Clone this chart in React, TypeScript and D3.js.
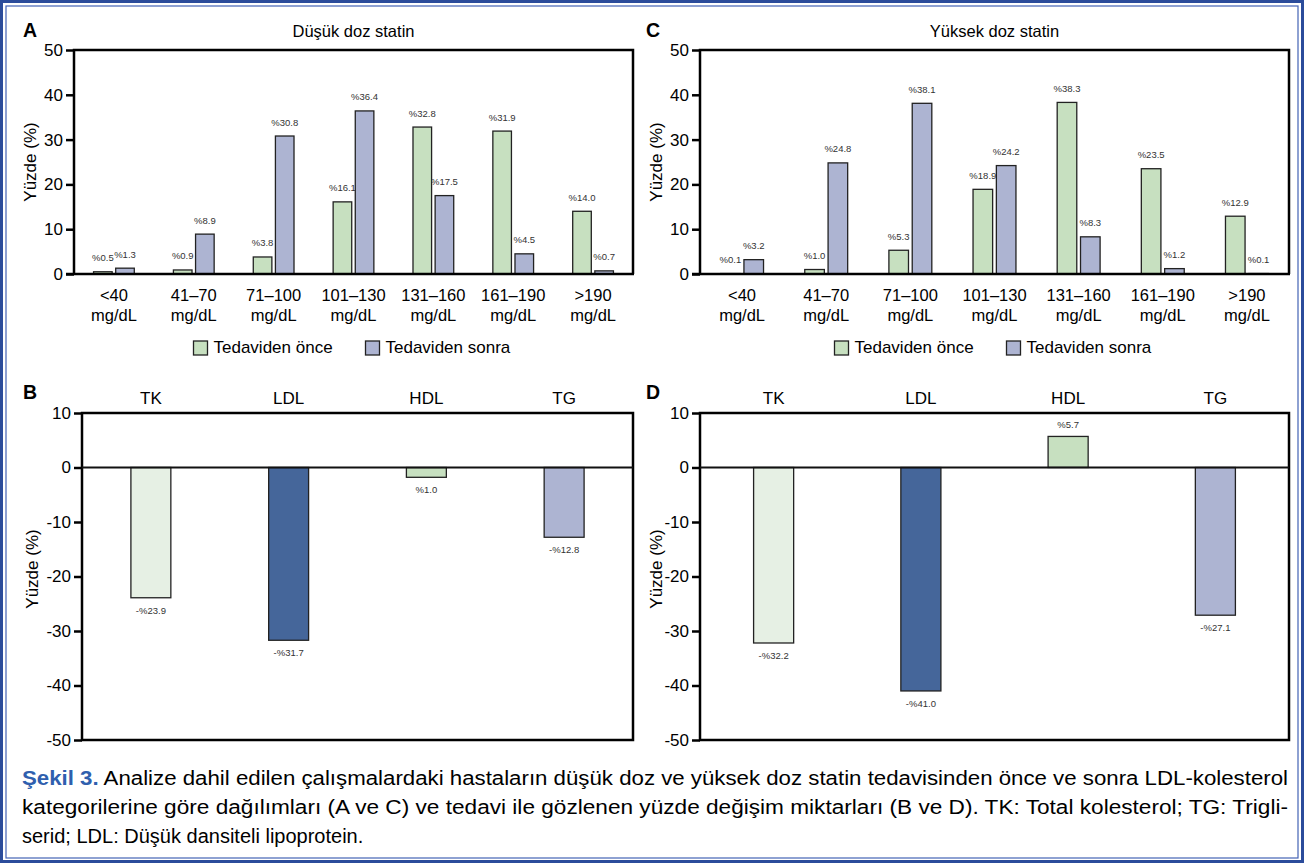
import React, { useEffect, useRef } from 'react';
import * as d3 from 'd3';

// LDL kategorileri (A ve C)
const ldlCategories = ['<40', '41–70', '71–100', '101–130', '131–160', '161–190', '>190'];
const seriesNames = ['Tedaviden önce', 'Tedaviden sonra'];
const dusukOnce = [0.5, 0.9, 3.8, 16.1, 32.8, 31.9, 14.0];
const dusukSonra = [1.3, 8.9, 30.8, 36.4, 17.5, 4.5, 0.7];
const yuksekOnce = [0.1, 1.0, 5.3, 18.9, 38.3, 23.5, 12.9];
const yuksekSonra = [3.2, 24.8, 38.1, 24.2, 8.3, 1.2, 0.1];
const distTicks = [0, 10, 20, 30, 40, 50];

// yüzde değişim (B ve D)
const lipids = ['TK', 'LDL', 'HDL', 'TG'];
const dusukDegisim = [-23.9, -31.7, -1.8, -12.8];
const dusukEtiket = ['-%23.9', '-%31.7', '%1.0', '-%12.8'];
const yuksekDegisim = [-32.2, -41.0, 5.7, -27.1];
const yuksekEtiket = ['-%32.2', '-%41.0', '%5.7', '-%27.1'];
const changeTicks = [10, 0, -10, -20, -30, -40, -50];

const FONT = "'Liberation Sans', Arial, Helvetica, sans-serif";
const seriesColors = ['#c7e0c0', '#adb4d2'];
const lipidColors = ['#e6f0e4', '#45669a', '#c7e0c0', '#adb4d2'];

function drawYAxis(svg, y, ticks, left, labelX, labelY) {
  const axis = d3
    .axisLeft(y)
    .tickValues(ticks)
    .tickSize(8)
    .tickPadding(3)
    .tickFormat((d) => String(d));
  const g = svg
    .append('g')
    .attr('transform', `translate(${left},0)`)
    .call(axis)
    .attr('font-family', FONT)
    .attr('font-size', 17);
  g.select('.domain').remove();
  g.selectAll('line').attr('stroke', '#000').attr('stroke-width', 2.5);
  g.selectAll('text').attr('fill', '#000');

  svg
    .append('text')
    .attr('transform', `translate(${labelX},${labelY}) rotate(-90)`)
    .attr('text-anchor', 'middle')
    .attr('font-family', FONT)
    .attr('font-size', 17)
    .text('Yüzde (%)');
}

function drawLetter(svg, letter, x, y) {
  svg
    .append('text')
    .attr('x', x)
    .attr('y', y)
    .attr('font-family', FONT)
    .attr('font-weight', 'bold')
    .attr('font-size', 19.5)
    .text(letter);
}

function drawDistribution(svg, opts) {
  const { left, right, top, bottom, title, letter, letterX, once, sonra, yLabelX } = opts;

  const x0 = d3
    .scaleBand()
    .domain(ldlCategories)
    .range([left, right])
    .paddingInner(0.49)
    .paddingOuter(0.245);
  const x1 = d3
    .scaleBand()
    .domain(seriesNames)
    .range([0, x0.bandwidth()])
    .paddingInner(0.16);
  const y = d3.scaleLinear().domain([0, 50]).range([bottom, top]);

  const rows = ldlCategories.map((c, i) => ({ c, values: [once[i], sonra[i]] }));

  const groups = svg
    .selectAll(null)
    .data(rows)
    .enter()
    .append('g')
    .attr('transform', (d) => `translate(${x0(d.c)},0)`);

  groups
    .selectAll('rect')
    .data((d) => d.values.map((v, j) => ({ v, s: seriesNames[j], j })))
    .enter()
    .append('rect')
    .attr('x', (d) => x1(d.s))
    .attr('y', (d) => y(d.v))
    .attr('width', x1.bandwidth())
    .attr('height', (d) => y(0) - y(d.v))
    .attr('fill', (d) => seriesColors[d.j])
    .attr('stroke', '#222')
    .attr('stroke-width', 1.3);

  groups
    .selectAll('text.val')
    .data((d) => d.values.map((v, j) => ({ v, s: seriesNames[j] })))
    .enter()
    .append('text')
    .attr('class', 'val')
    .attr('x', (d) => x1(d.s) + x1.bandwidth() / 2)
    .attr('y', (d) => y(d.v) - 10.5)
    .attr('text-anchor', 'middle')
    .attr('font-family', FONT)
    .attr('font-size', 9.5)
    .attr('fill', '#333')
    .text((d) => `%${d.v.toFixed(1)}`);

  // frame
  svg
    .append('path')
    .attr('d', `M${left},${y(0)}V${top}H${right}V${y(0)}`)
    .attr('fill', 'none')
    .attr('stroke', '#000')
    .attr('stroke-width', 2.5);
  svg
    .append('line')
    .attr('x1', left - 8)
    .attr('x2', right + 1)
    .attr('y1', y(0))
    .attr('y2', y(0))
    .attr('stroke', '#000')
    .attr('stroke-width', 2.5);

  drawYAxis(svg, y, distTicks, left, yLabelX, (top + bottom) / 2);

  // x labels
  const xl = svg
    .selectAll(null)
    .data(ldlCategories)
    .enter()
    .append('text')
    .attr('text-anchor', 'middle')
    .attr('font-family', FONT)
    .attr('font-size', 16.5);
  xl.append('tspan')
    .attr('x', (d) => x0(d) + x0.bandwidth() / 2)
    .attr('y', bottom + 27)
    .text((d) => d);
  xl.append('tspan')
    .attr('x', (d) => x0(d) + x0.bandwidth() / 2)
    .attr('y', bottom + 47)
    .text('mg/dL');

  // title
  svg
    .append('text')
    .attr('x', (left + right) / 2)
    .attr('y', 36.5)
    .attr('text-anchor', 'middle')
    .attr('font-family', FONT)
    .attr('font-size', 16.5)
    .text(title);

  drawLetter(svg, letter, letterX, 37);

  // legend
  const legendStart = (left + right) / 2 - 160;
  seriesNames.forEach((name, j) => {
    const lx = legendStart + j * 172;
    svg
      .append('rect')
      .attr('x', lx)
      .attr('y', bottom + 67)
      .attr('width', 14)
      .attr('height', 14)
      .attr('fill', seriesColors[j])
      .attr('stroke', '#222')
      .attr('stroke-width', 1.3);
    svg
      .append('text')
      .attr('x', lx + 20)
      .attr('y', bottom + 79)
      .attr('font-family', FONT)
      .attr('font-size', 17)
      .text(name);
  });
}

function drawChange(svg, opts) {
  const { left, right, top, bottom, letter, letterX, values, labels, yLabelX, pad } = opts;

  const x = d3
    .scaleBand()
    .domain(lipids)
    .range([left, right])
    .paddingInner(pad)
    .paddingOuter(pad / 2);
  const y = d3.scaleLinear().domain([-50, 10]).range([bottom, top]);

  const rows = lipids.map((l, i) => ({ l, v: values[i], label: labels[i], i }));

  svg
    .selectAll(null)
    .data(rows)
    .enter()
    .append('rect')
    .attr('x', (d) => x(d.l))
    .attr('y', (d) => y(Math.max(0, d.v)))
    .attr('width', x.bandwidth())
    .attr('height', (d) => Math.abs(y(d.v) - y(0)))
    .attr('fill', (d) => lipidColors[d.i])
    .attr('stroke', '#222')
    .attr('stroke-width', 1.3);

  svg
    .selectAll(null)
    .data(rows)
    .enter()
    .append('text')
    .attr('x', (d) => x(d.l) + x.bandwidth() / 2)
    .attr('y', (d) => (d.v < 0 ? y(d.v) + 16 : y(d.v) - 8))
    .attr('text-anchor', 'middle')
    .attr('font-family', FONT)
    .attr('font-size', 9.5)
    .attr('fill', '#333')
    .text((d) => d.label);

  svg
    .append('rect')
    .attr('x', left)
    .attr('y', top)
    .attr('width', right - left)
    .attr('height', bottom - top)
    .attr('fill', 'none')
    .attr('stroke', '#000')
    .attr('stroke-width', 2.5);
  svg
    .append('line')
    .attr('x1', left)
    .attr('x2', right)
    .attr('y1', y(0))
    .attr('y2', y(0))
    .attr('stroke', '#111')
    .attr('stroke-width', 2.2);

  drawYAxis(svg, y, changeTicks, left, yLabelX, 569);

  svg
    .selectAll(null)
    .data(lipids)
    .enter()
    .append('text')
    .attr('x', (d) => x(d) + x.bandwidth() / 2)
    .attr('y', top - 9)
    .attr('text-anchor', 'middle')
    .attr('font-family', FONT)
    .attr('font-size', 17)
    .text((d) => d);

  drawLetter(svg, letter, letterX, 399);
}

function App() {
  const svgRef = useRef(null);

  useEffect(() => {
    const svg = d3.select(svgRef.current);
    svg.selectAll('*').remove();

    svg.append('rect').attr('width', 1313).attr('height', 866).attr('fill', '#fff');

    // double blue border
    svg
      .append('rect')
      .attr('x', 1.5)
      .attr('y', 1.5)
      .attr('width', 1301)
      .attr('height', 860)
      .attr('fill', 'none')
      .attr('stroke', '#2b4c9b')
      .attr('stroke-width', 3);
    svg
      .append('rect')
      .attr('x', 6)
      .attr('y', 6)
      .attr('width', 1292)
      .attr('height', 852)
      .attr('fill', 'none')
      .attr('stroke', '#4363b5')
      .attr('stroke-width', 1.2);

    drawDistribution(svg, {
      left: 74, right: 633, top: 50, bottom: 274,
      title: 'Düşük doz statin', letter: 'A', letterX: 23,
      once: dusukOnce, sonra: dusukSonra, yLabelX: 36,
    });
    drawDistribution(svg, {
      left: 700, right: 1289, top: 50, bottom: 274,
      title: 'Yüksek doz statin', letter: 'C', letterX: 646,
      once: yuksekOnce, sonra: yuksekSonra, yLabelX: 662,
    });
    drawChange(svg, {
      left: 82, right: 633, top: 413, bottom: 740,
      letter: 'B', letterX: 23, values: dusukDegisim, labels: dusukEtiket,
      yLabelX: 38, pad: 0.71,
    });
    drawChange(svg, {
      left: 700, right: 1289, top: 413, bottom: 740,
      letter: 'D', letterX: 646, values: yuksekDegisim, labels: yuksekEtiket,
      yLabelX: 662, pad: 0.728,
    });

    // caption
    const cap1 = svg
      .append('text')
      .attr('x', 22)
      .attr('y', 785)
      .attr('font-family', FONT)
      .attr('font-size', 20)
      .attr('textLength', 1266)
      .attr('lengthAdjust', 'spacingAndGlyphs');
    cap1.append('tspan').attr('font-weight', 'bold').attr('fill', '#2f5fae').text('Şekil 3.');
    cap1
      .append('tspan')
      .text(' Analize dahil edilen çalışmalardaki hastaların düşük doz ve yüksek doz statin tedavisinden önce ve sonra LDL-kolesterol');

    svg
      .append('text')
      .attr('x', 22)
      .attr('y', 814)
      .attr('font-family', FONT)
      .attr('font-size', 20)
      .attr('textLength', 1266)
      .attr('lengthAdjust', 'spacingAndGlyphs')
      .text('kategorilerine göre dağılımları (A ve C) ve tedavi ile gözlenen yüzde değişim miktarları (B ve D). TK: Total kolesterol; TG: Trigli-');

    svg
      .append('text')
      .attr('x', 22)
      .attr('y', 843)
      .attr('font-family', FONT)
      .attr('font-size', 20)
      .text('serid; LDL: Düşük dansiteli lipoprotein.');
  }, []);

  return (
    <svg
      ref={svgRef}
      width={1313}
      height={866}
      style={{ position: 'absolute', left: 0, top: 0, display: 'block' }}
    />
  );
}

export default App;
